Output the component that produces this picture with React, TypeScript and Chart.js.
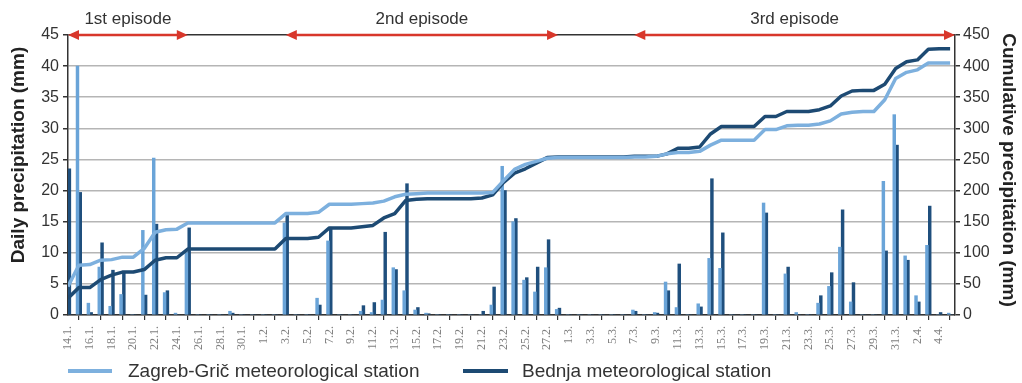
import React, { useEffect, useRef } from 'react';
import { Chart, registerables } from 'chart.js';

Chart.register(...registerables);

const dates = [
  '14.1.', '15.1.', '16.1.', '17.1.', '18.1.', '19.1.', '20.1.', '21.1.', '22.1.', '23.1.',
  '24.1.', '25.1.', '26.1.', '27.1.', '28.1.', '29.1.', '30.1.', '31.1.',
  '1.2.', '2.2.', '3.2.', '4.2.', '5.2.', '6.2.', '7.2.', '8.2.', '9.2.', '10.2.',
  '11.2.', '12.2.', '13.2.', '14.2.', '15.2.', '16.2.', '17.2.', '18.2.', '19.2.', '20.2.',
  '21.2.', '22.2.', '23.2.', '24.2.', '25.2.', '26.2.', '27.2.', '28.2.',
  '1.3.', '2.3.', '3.3.', '4.3.', '5.3.', '6.3.', '7.3.', '8.3.', '9.3.', '10.3.',
  '11.3.', '12.3.', '13.3.', '14.3.', '15.3.', '16.3.', '17.3.', '18.3.', '19.3.', '20.3.',
  '21.3.', '22.3.', '23.3.', '24.3.', '25.3.', '26.3.', '27.3.', '28.3.', '29.3.', '30.3.', '31.3.',
  '1.4.', '2.4.', '3.4.', '4.4.', '5.4.',
];

// Daily precipitation (mm)
const zagrebDaily = [
  0, 40.0, 1.9, 7.7, 1.4, 3.3, 0, 13.6, 25.2, 3.6,
  0.3, 10.0, 0, 0, 0, 0.6, 0, 0, 0, 0,
  14.8, 0, 0, 2.7, 11.9, 0, 0, 0.6, 0.4, 2.4,
  7.6, 3.9, 0.8, 0.3, 0, 0, 0, 0, 0, 1.6,
  23.9, 15.0, 5.6, 3.7, 7.6, 0.9, 0, 0, 0, 0,
  0, 0, 0.8, 0, 0.4, 5.3, 1.2, 0, 1.8, 9.1,
  7.5, 0, 0, 0, 18.0, 0, 6.6, 0.4, 0, 1.9,
  4.6, 10.9, 2.1, 0, 0, 21.5, 32.2, 9.5, 3.1, 11.2,
  0, 0.3,
];

const bednjaDaily = [
  23.5, 19.7, 0.4, 11.6, 7.2, 6.8, 0, 3.2, 14.6, 3.9,
  0, 14.0, 0, 0, 0, 0.3, 0, 0, 0, 0,
  16.0, 0, 0, 1.6, 14.1, 0, 0, 1.5, 2.0, 13.3,
  7.3, 21.1, 1.2, 0.2, 0, 0, 0, 0, 0.6, 4.5,
  20.0, 15.5, 6.0, 7.7, 12.1, 1.1, 0, 0, 0, 0,
  0, 0, 0.6, 0, 0.3, 3.9, 8.2, 0, 1.3, 21.9,
  13.2, 0, 0, 0, 16.4, 0, 7.7, 0, 0, 3.1,
  6.8, 16.9, 5.2, 0, 0, 10.3, 27.3, 8.8, 2.1, 17.5,
  0.4, 0,
];

// Cumulative precipitation (mm)
const zagrebCumulative = [
  46, 80, 81, 88, 89, 93, 93, 107, 133, 137,
  138, 148, 148, 148, 148, 148, 148, 148, 148, 148,
  163, 163, 163, 165, 178, 178, 178, 179, 180, 183,
  190, 194, 195, 196, 196, 196, 196, 196, 196, 197,
  216, 234, 242, 247, 252, 253, 253, 253, 253, 253,
  253, 253, 254, 254, 255, 259, 261, 261, 263, 273,
  281, 281, 281, 281, 298, 298, 304, 305, 305, 307,
  312, 323, 326, 327, 327, 346, 380, 390, 394, 405,
  405, 405,
];

const bednjaCumulative = [
  27, 44, 44, 57, 64, 69, 69, 73, 88, 92,
  92, 106, 106, 106, 106, 106, 106, 106, 106, 106,
  123, 123, 123, 125, 140, 140, 140, 142, 144, 156,
  163, 184, 186, 187, 187, 187, 187, 187, 188, 193,
  213, 228, 235, 244, 253, 254, 254, 254, 254, 254,
  254, 254, 255, 255, 255, 259, 268, 268, 270, 291,
  303, 303, 303, 303, 319, 319, 327, 327, 327, 330,
  336, 352, 360, 361, 361, 371, 396, 407, 410, 427,
  428, 428,
];

const episodes = [
  { label: '1st episode', from: '14.1.', to: '25.1.' },
  { label: '2nd episode', from: '3.2.', to: '28.2.' },
  { label: '3rd episode', from: '7.3.', to: '5.4.' },
];

const seriesNames = ['Zagreb-Grič meteorological station', 'Bednja meteorological station'];
const leftTitle = 'Daily precipitation (mm)';
const rightTitle = 'Cumulative precipitation (mm)';

const LIGHT_LINE = '#7db0de';
const DARK_LINE = '#1d4a73';
const LIGHT_BAR = '#6aa4d8';
const DARK_BAR = '#1f4f7d';
const RED = '#d8372b';
const TEXT = '#333333';
const SANS = '"Liberation Sans", Arial, sans-serif';

const overlayPlugin = {
  id: 'overlay',
  afterDraw(chart: any) {
    const { ctx, chartArea } = chart;
    const xs = chart.scales.x;
    ctx.save();
    const y = chartArea.top;
    episodes.forEach((ep) => {
      const i1 = dates.indexOf(ep.from);
      const i2 = dates.indexOf(ep.to);
      const x1 = xs.getPixelForValue(i1);
      const x2 = i2 === dates.length - 1 ? chartArea.right : xs.getPixelForValue(i2);
      ctx.strokeStyle = RED;
      ctx.fillStyle = RED;
      ctx.lineWidth = 2.5;
      ctx.beginPath();
      ctx.moveTo(x1 + 6, y);
      ctx.lineTo(x2 - 6, y);
      ctx.stroke();
      ctx.beginPath();
      ctx.moveTo(x1, y);
      ctx.lineTo(x1 + 11, y - 5);
      ctx.lineTo(x1 + 11, y + 5);
      ctx.closePath();
      ctx.fill();
      ctx.beginPath();
      ctx.moveTo(x2, y);
      ctx.lineTo(x2 - 11, y - 5);
      ctx.lineTo(x2 - 11, y + 5);
      ctx.closePath();
      ctx.fill();
      ctx.fillStyle = TEXT;
      ctx.font = `17px ${SANS}`;
      ctx.textAlign = 'center';
      ctx.textBaseline = 'middle';
      ctx.fillText(ep.label, (x1 + x2) / 2, 19);
    });
    const midY = (chartArea.top + chartArea.bottom) / 2;
    ctx.fillStyle = '#222';
    ctx.font = `bold 19px ${SANS}`;
    ctx.textAlign = 'center';
    ctx.textBaseline = 'middle';
    ctx.save();
    ctx.translate(chartArea.left - 49, midY - 20);
    ctx.rotate(-Math.PI / 2);
    ctx.fillText(leftTitle, 0, 0);
    ctx.restore();
    ctx.save();
    ctx.translate(chartArea.right + 53, midY - 5);
    ctx.rotate(Math.PI / 2);
    ctx.fillText(rightTitle, 0, 0);
    ctx.restore();
    ctx.restore();
  },
};

export default function App() {
  const ref = useRef<HTMLCanvasElement | null>(null);

  useEffect(() => {
    if (!ref.current) return;
    const toXY = (arr: number[]) => arr.map((v, i) => ({ x: i, y: v }));
    const chart = new Chart(ref.current, {
      type: 'bar',
      data: {
        datasets: [
          {
            type: 'line',
            label: seriesNames[0],
            data: toXY(zagrebCumulative),
            yAxisID: 'y2',
            borderColor: LIGHT_LINE,
            backgroundColor: LIGHT_LINE,
            borderWidth: 3.5,
            pointRadius: 0,
            tension: 0,
            borderJoinStyle: 'round',
            order: 0,
          } as any,
          {
            type: 'line',
            label: seriesNames[1],
            data: toXY(bednjaCumulative),
            yAxisID: 'y2',
            borderColor: DARK_LINE,
            backgroundColor: DARK_LINE,
            borderWidth: 3.5,
            pointRadius: 0,
            tension: 0,
            borderJoinStyle: 'round',
            order: 0,
          } as any,
          {
            type: 'bar',
            label: seriesNames[0] + ' daily',
            data: toXY(zagrebDaily),
            yAxisID: 'y',
            backgroundColor: LIGHT_BAR,
            barThickness: 2.8,
            order: 1,
          } as any,
          {
            type: 'bar',
            label: seriesNames[1] + ' daily',
            data: toXY(bednjaDaily),
            yAxisID: 'y',
            backgroundColor: DARK_BAR,
            barThickness: 2.8,
            order: 1,
          } as any,
        ],
      },
      options: {
        responsive: false,
        animation: false,
        layout: { padding: { top: 35, left: 0, right: 0, bottom: 0 } },
        plugins: { legend: { display: false }, tooltip: { enabled: false } },
        scales: {
          x: {
            type: 'linear',
            min: 0,
            max: 81.45,
            offset: false,
            ticks: {
              stepSize: 2,
              autoSkip: false,
              includeBounds: false,
              minRotation: 90,
              maxRotation: 90,
              padding: 6,
              color: '#808080',
              font: { family: '"Liberation Serif", "Times New Roman", serif', size: 12 },
              callback: (v: any) => (Number.isInteger(v) && dates[v] ? dates[v] : ''),
            },
            grid: { drawOnChartArea: false, drawTicks: true, tickLength: 5, tickColor: '#333', lineWidth: 1.2 },
            border: { color: '#333', width: 1.5 },
            afterFit: (s: any) => { s.height = 68; },
          } as any,
          y: {
            position: 'left',
            min: 0,
            max: 45,
            ticks: { stepSize: 5, color: TEXT, padding: 4, font: { family: SANS, size: 16 } },
            grid: {
              color: (c: any) => (c.tick && c.tick.value === 45 ? '#333' : '#b5b5b5'),
              lineWidth: 1.5,
              tickLength: 5,
              tickColor: '#333',
            },
            border: { color: '#333', width: 1.5 },
            afterFit: (s: any) => { s.width = 68; },
          } as any,
          y2: {
            position: 'right',
            min: 0,
            max: 450,
            ticks: { stepSize: 50, color: TEXT, padding: 3, font: { family: SANS, size: 16 } },
            grid: { drawOnChartArea: false, tickLength: 5, tickColor: '#333', lineWidth: 1.5 },
            border: { color: '#333', width: 1.5 },
            afterFit: (s: any) => { s.width = 67; },
          } as any,
        },
      },
      plugins: [overlayPlugin],
    });
    return () => chart.destroy();
  }, []);

  return (
    <div style={{ position: 'fixed', left: 0, top: 0, width: 1022, height: 383, background: '#fff' }}>
      <canvas ref={ref} width={1022} height={383} style={{ position: 'absolute', left: 0, top: 0 }} />
      <div style={{ position: 'absolute', left: 0, top: 0, width: 1022, height: 383, pointerEvents: 'none', font: `19px ${SANS}`, color: TEXT }}>
        <span style={{ position: 'absolute', left: 68, top: 369, width: 44, height: 4, background: LIGHT_LINE }} />
        <span style={{ position: 'absolute', left: 128, top: 360, lineHeight: '22px', whiteSpace: 'nowrap' }}>{seriesNames[0]}</span>
        <span style={{ position: 'absolute', left: 463, top: 369, width: 45, height: 4, background: DARK_LINE }} />
        <span style={{ position: 'absolute', left: 522, top: 360, lineHeight: '22px', whiteSpace: 'nowrap' }}>{seriesNames[1]}</span>
      </div>
    </div>
  );
}
